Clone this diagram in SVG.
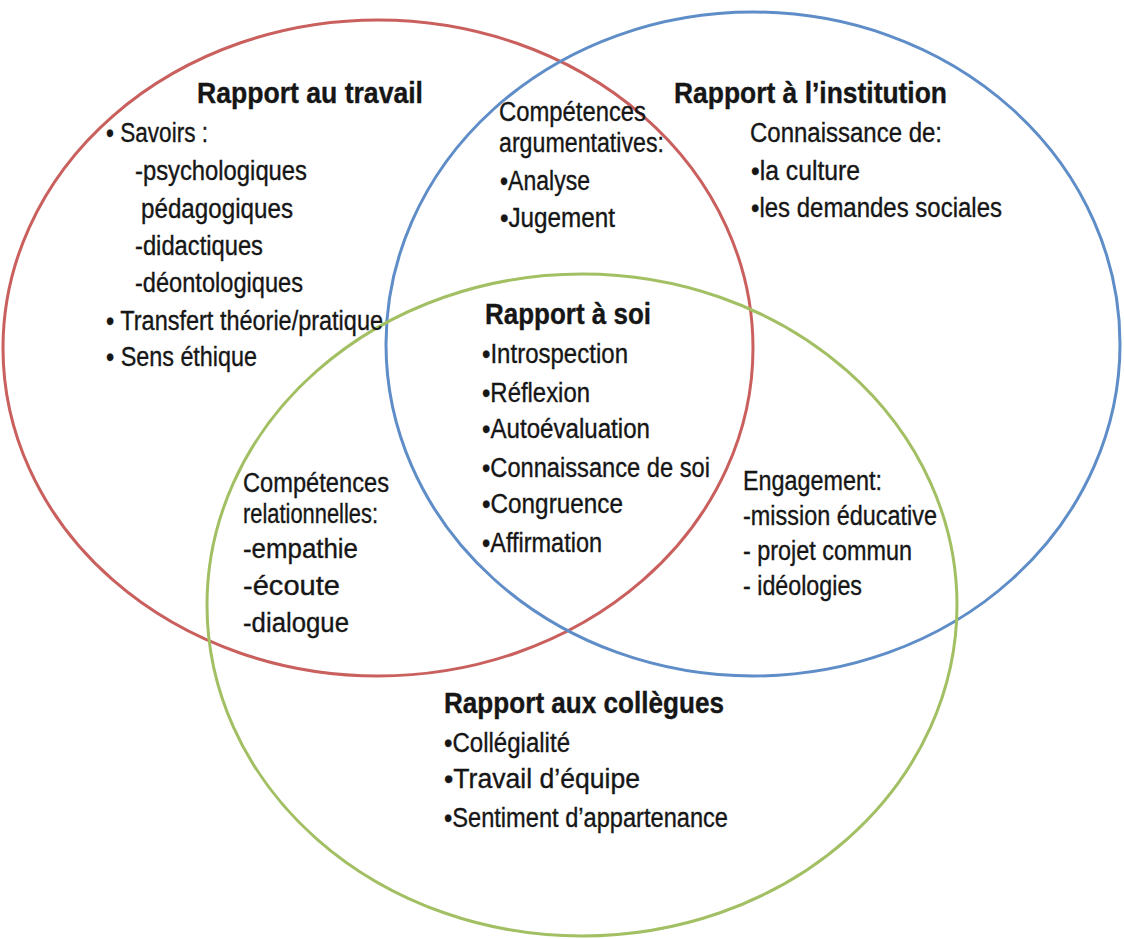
<svg xmlns="http://www.w3.org/2000/svg" width="1124" height="939" viewBox="0 0 1124 939">
  <style>
    .ring { fill: none; stroke-width: 3; }
    .red { stroke: #C9605E; }
    .blue { stroke: #5F8DC8; }
    .green { stroke: #A2C063; }
    text { font-family: "Liberation Sans", Arial, sans-serif; fill: #161616; stroke: #161616; stroke-width: 0.35; }
    .t { font-size: 29px; font-weight: bold; }
    .b { font-size: 27px; }
  </style>
  <rect width="1124" height="939" fill="#ffffff"/>

  <!-- the three overlapping areas -->
  <g id="rings">
    <ellipse id="ring-travail" class="ring red" cx="378" cy="348" rx="375" ry="328"/>
    <ellipse id="ring-institution" class="ring blue" cx="753" cy="344" rx="367" ry="332"/>
    <ellipse id="ring-collegues" class="ring green" cx="582" cy="605" rx="375" ry="331"/>
  </g>

  <g id="travail">
    <text class="t" x="197" y="103" textLength="226" lengthAdjust="spacingAndGlyphs">Rapport au travail</text>
    <text class="b" x="106" y="142" textLength="102" lengthAdjust="spacingAndGlyphs">• Savoirs :</text>
    <text class="b" x="135" y="180" textLength="172" lengthAdjust="spacingAndGlyphs">-psychologiques</text>
    <text class="b" x="141" y="218" textLength="152" lengthAdjust="spacingAndGlyphs">pédagogiques</text>
    <text class="b" x="135" y="255" textLength="128" lengthAdjust="spacingAndGlyphs">-didactiques</text>
    <text class="b" x="135" y="292" textLength="168" lengthAdjust="spacingAndGlyphs">-déontologiques</text>
    <text class="b" x="106" y="330" textLength="277" lengthAdjust="spacingAndGlyphs">• Transfert théorie/pratique</text>
    <text class="b" x="106" y="366" textLength="151" lengthAdjust="spacingAndGlyphs">• Sens éthique</text>
  </g>

  <g id="argumentatives">
    <text class="b" x="499" y="121" textLength="147" lengthAdjust="spacingAndGlyphs">Compétences</text>
    <text class="b" x="499" y="152" textLength="165" lengthAdjust="spacingAndGlyphs">argumentatives:</text>
    <text class="b" x="500" y="190" textLength="90" lengthAdjust="spacingAndGlyphs">•Analyse</text>
    <text class="b" x="500" y="227" textLength="115" lengthAdjust="spacingAndGlyphs">•Jugement</text>
  </g>

  <g id="institution">
    <text class="t" x="674" y="103" textLength="273" lengthAdjust="spacingAndGlyphs">Rapport à l’institution</text>
    <text class="b" x="750" y="142" textLength="192" lengthAdjust="spacingAndGlyphs">Connaissance de:</text>
    <text class="b" x="751" y="180" textLength="109" lengthAdjust="spacingAndGlyphs">•la culture</text>
    <text class="b" x="751" y="217" textLength="251" lengthAdjust="spacingAndGlyphs">•les demandes sociales</text>
  </g>

  <g id="soi">
    <text class="t" x="485" y="324" textLength="166" lengthAdjust="spacingAndGlyphs">Rapport à soi</text>
    <text class="b" x="482" y="363" textLength="146" lengthAdjust="spacingAndGlyphs">•Introspection</text>
    <text class="b" x="482" y="402" textLength="108" lengthAdjust="spacingAndGlyphs">•Réflexion</text>
    <text class="b" x="482" y="438" textLength="168" lengthAdjust="spacingAndGlyphs">•Autoévaluation</text>
    <text class="b" x="482" y="477" textLength="228" lengthAdjust="spacingAndGlyphs">•Connaissance de soi</text>
    <text class="b" x="482" y="513" textLength="141" lengthAdjust="spacingAndGlyphs">•Congruence</text>
    <text class="b" x="482" y="552" textLength="120" lengthAdjust="spacingAndGlyphs">•Affirmation</text>
  </g>

  <g id="relationnelles">
    <text class="b" x="243" y="492" textLength="146" lengthAdjust="spacingAndGlyphs">Compétences</text>
    <text class="b" x="243" y="523" textLength="135" lengthAdjust="spacingAndGlyphs">relationnelles:</text>
    <text class="b" x="243" y="558" textLength="115" lengthAdjust="spacingAndGlyphs">-empathie</text>
    <text class="b" x="243" y="595" textLength="97" lengthAdjust="spacingAndGlyphs">-écoute</text>
    <text class="b" x="243" y="632" textLength="106" lengthAdjust="spacingAndGlyphs">-dialogue</text>
  </g>

  <g id="engagement">
    <text class="b" x="743" y="490" textLength="139" lengthAdjust="spacingAndGlyphs">Engagement:</text>
    <text class="b" x="743" y="525" textLength="194" lengthAdjust="spacingAndGlyphs">-mission éducative</text>
    <text class="b" x="743" y="560" textLength="169" lengthAdjust="spacingAndGlyphs">- projet commun</text>
    <text class="b" x="743" y="595" textLength="119" lengthAdjust="spacingAndGlyphs">- idéologies</text>
  </g>

  <g id="collegues">
    <text class="t" x="444" y="713" textLength="280" lengthAdjust="spacingAndGlyphs">Rapport aux collègues</text>
    <text class="b" x="444" y="752" textLength="126" lengthAdjust="spacingAndGlyphs">•Collégialité</text>
    <text class="b" x="444" y="788" textLength="196" lengthAdjust="spacingAndGlyphs">•Travail d’équipe</text>
    <text class="b" x="444" y="827" textLength="284" lengthAdjust="spacingAndGlyphs">•Sentiment d’appartenance</text>
  </g>
</svg>
